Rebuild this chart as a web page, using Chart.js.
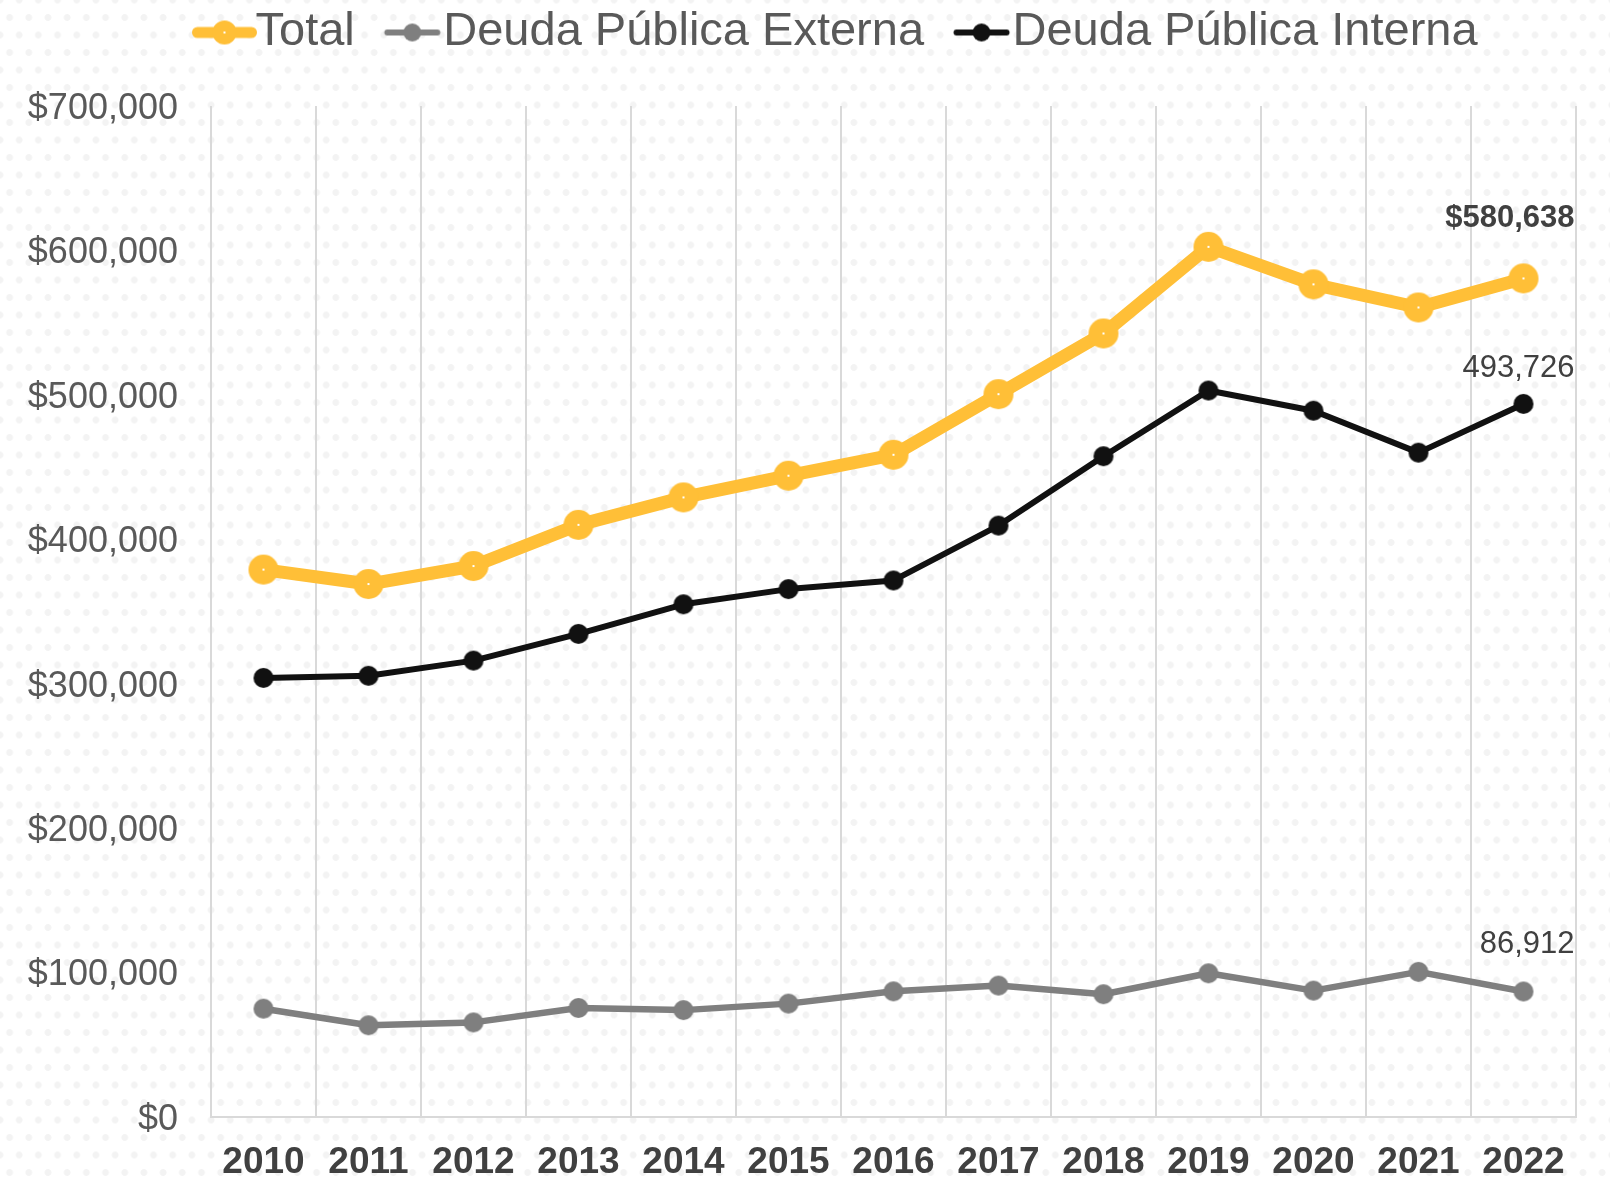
<!DOCTYPE html>
<html lang="es">
<head>
<meta charset="utf-8">
<title>Deuda Pública</title>
<script src="https://cdn.jsdelivr.net/npm/chart.js@4.4.1/dist/chart.umd.min.js"></script>
<style>
    html, body { margin: 0; padding: 0; }
    body {
        width: 1610px;
        height: 1178px;
        overflow: hidden;
        background-color: #ffffff;
        /* faint staggered dot texture behind the whole chart */
        background-image:
            radial-gradient(circle, #f3f3f3 3px, rgba(255,255,255,0) 3.8px),
            radial-gradient(circle, #f3f3f3 3px, rgba(255,255,255,0) 3.8px);
        background-size: 19.2px 35px;
        background-position: 0 0, 9.6px 17.5px;
    }
    #wrap { position: relative; width: 1610px; height: 1178px; }
</style>
</head>
<body>
<div id="wrap"><canvas id="debtChart" width="1610" height="1178"></canvas></div>
<script>
// Data
const years = ['2010', '2011', '2012', '2013', '2014', '2015', '2016', '2017', '2018', '2019', '2020', '2021', '2022'];
const total   = [379000, 369000, 381500, 410000, 429000, 444000, 458500, 500500, 542500, 602500, 576500, 560500, 580638];
const externa = [75000, 63500, 65500, 75500, 74000, 78500, 87000, 91000, 85000, 99500, 87500, 100500, 86912];
const interna = [304000, 305500, 316000, 334500, 355000, 365500, 371500, 409500, 457500, 503000, 489000, 460000, 493726];
const yTicks  = [0, 100000, 200000, 300000, 400000, 500000, 600000, 700000];

const FONT = "'Liberation Sans', Arial, sans-serif";
const YELLOW = '#ffbf37';
const GREY = '#7f7f7f';
const BLACK = '#111111';

// Legend layout
const LEGEND_BOX = 60;       // pointStyleWidth reserved per item
const ICON_SHIFT = 22.5;     // icon center offset inside the legend image
const LEGEND_START = 172;    // x of the first legend item
const TOP_SPACE = 44;        // room reserved between legend row and plot
const LEGEND_LIFT = 40;      // how far the legend is pulled up into that room

Chart.defaults.font.family = FONT;

// Round marker, optionally with a small white center dot
function markerImage(color, radius, dot) {
    const c = document.createElement('canvas');
    c.width = c.height = radius * 2 + 2;
    const ctx = c.getContext('2d');
    const m = c.width / 2;
    ctx.fillStyle = color;
    ctx.beginPath();
    ctx.arc(m, m, radius, 0, Math.PI * 2);
    ctx.fill();
    if (dot) {
        ctx.fillStyle = '#ffffff';
        ctx.fillRect(m - 1, m - 1, 2, 2);
    }
    return c;
}

// Line + marker icon for the legend
function legendIcon(color, lineWidth, halfLen, radius, dot) {
    const c = document.createElement('canvas');
    c.width = 140;
    c.height = 32;
    const ctx = c.getContext('2d');
    const cx = c.width / 2 + ICON_SHIFT;
    const cy = c.height / 2;
    ctx.strokeStyle = color;
    ctx.lineWidth = lineWidth;
    ctx.lineCap = 'round';
    ctx.beginPath();
    ctx.moveTo(cx - halfLen, cy);
    ctx.lineTo(cx + halfLen, cy);
    ctx.stroke();
    ctx.fillStyle = color;
    ctx.beginPath();
    ctx.arc(cx, cy, radius, 0, Math.PI * 2);
    ctx.fill();
    if (dot) {
        ctx.fillStyle = '#ffffff';
        ctx.fillRect(cx - 1, cy - 1, 2, 2);
    }
    return c;
}

const legendIcons = [
    legendIcon(YELLOW, 11, 27, 12, true),
    legendIcon(GREY, 6, 25, 9, false),
    legendIcon(BLACK, 6, 25, 9, false)
];

// Value label next to the last point of each series
const endLabels = {
    id: 'endLabels',
    afterDatasetsDraw(chart) {
        const ctx = chart.ctx;
        chart.data.datasets.forEach((ds, i) => {
            const meta = chart.getDatasetMeta(i);
            const last = meta.data[meta.data.length - 1];
            const value = ds.data[ds.data.length - 1];
            const cfg = ds.endLabel;
            ctx.save();
            ctx.font = (cfg.bold ? 'bold ' : '') + '31px ' + FONT;
            ctx.fillStyle = '#404040';
            ctx.textAlign = 'right';
            ctx.textBaseline = 'middle';
            ctx.fillText(cfg.prefix + value.toLocaleString('en-US'), last.x + 51, last.y - cfg.lift);
            ctx.restore();
        });
    }
};

// Move the legend row to its spot above the plot
const legendPlacement = {
    id: 'legendPlacement',
    afterLayout(chart) {
        const lg = chart.legend;
        const pad = lg.options.labels.padding;
        const start = (lg.left + pad + lg.right - lg.lineWidths[0]) / 2;
        const dx = LEGEND_START - start;
        lg.left += dx;
        lg.right += dx;
        lg.top -= LEGEND_LIFT;
        lg.bottom -= LEGEND_LIFT;
    }
};

const ctx = document.getElementById('debtChart').getContext('2d');

new Chart(ctx, {
    type: 'line',
    data: {
        labels: years,
        datasets: [
            {
                label: 'Total',
                data: total,
                borderColor: YELLOW,
                backgroundColor: YELLOW,
                borderWidth: 13,
                pointStyle: markerImage(YELLOW, 15, true),
                endLabel: { prefix: '$', bold: true, lift: 60 }
            },
            {
                label: 'Deuda Pública Externa',
                data: externa,
                borderColor: GREY,
                backgroundColor: GREY,
                borderWidth: 6.5,
                pointStyle: markerImage(GREY, 10, false),
                endLabel: { prefix: '', bold: false, lift: 47 }
            },
            {
                label: 'Deuda Pública Interna',
                data: interna,
                borderColor: BLACK,
                backgroundColor: BLACK,
                borderWidth: 6,
                pointStyle: markerImage(BLACK, 10, false),
                endLabel: { prefix: '', bold: false, lift: 35 }
            }
        ]
    },
    options: {
        responsive: false,
        animation: false,
        devicePixelRatio: 1,
        layout: {
            padding: { left: 0, right: 34, top: TOP_SPACE, bottom: 0 }
        },
        elements: {
            line: { tension: 0, borderCapStyle: 'round', borderJoinStyle: 'round' }
        },
        plugins: {
            tooltip: { enabled: false },
            legend: {
                position: 'top',
                labels: {
                    usePointStyle: true,
                    pointStyleWidth: LEGEND_BOX,
                    padding: 5,
                    color: '#595959',
                    font: { size: 47 },
                    generateLabels(chart) {
                        const items = Chart.defaults.plugins.legend.labels.generateLabels(chart);
                        return items.map((item, i) => ({ ...item, pointStyle: legendIcons[i] }));
                    }
                }
            }
        },
        scales: {
            x: {
                offset: true,
                grid: {
                    offset: true,
                    color: '#d9d9d9',
                    lineWidth: 2,
                    drawTicks: false
                },
                border: { color: '#d9d9d9', width: 2 },
                ticks: {
                    color: '#404040',
                    padding: 24,
                    maxRotation: 0,
                    autoSkip: false,
                    font: { size: 37, weight: 'bold' }
                },
                afterFit(scale) { scale.height = 61; }
            },
            y: {
                min: 0,
                max: 700000,
                grid: { display: false, drawTicks: false },
                border: { display: false },
                ticks: {
                    color: '#595959',
                    padding: 33,
                    labelOffset: 3,
                    font: { size: 36 },
                    callback: (v) => '$' + Number(v).toLocaleString('en-US')
                },
                afterBuildTicks(scale) {
                    scale.ticks = yTicks.map(v => ({ value: v }));
                },
                afterFit(scale) { scale.width = 211; }
            }
        }
    },
    plugins: [endLabels, legendPlacement]
});
</script>
</body>
</html>
